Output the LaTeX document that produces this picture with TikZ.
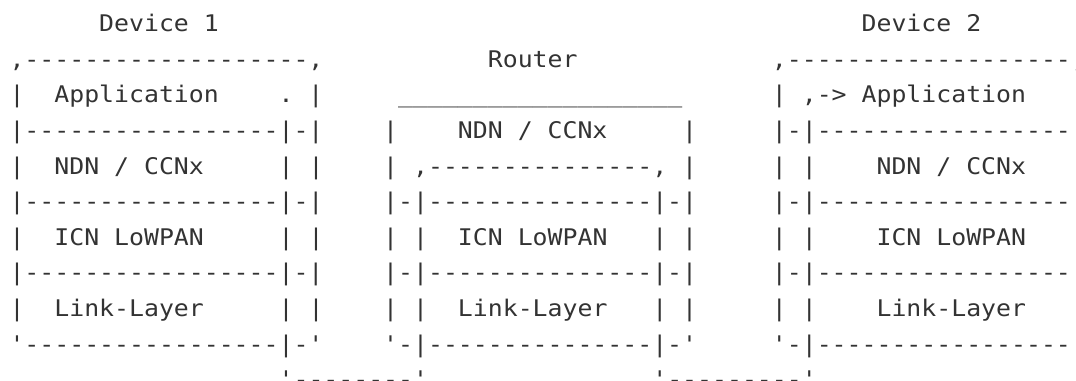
\documentclass[tikz,border=0pt]{standalone}
\usepackage{fontspec}
\setmonofont{DejaVu Sans Mono}[FakeStretch=1.084]
\definecolor{ink}{HTML}{333333}
\ExplSyntaxOn
\cs_new:Npn \Rp #1#2 { \prg_replicate:nn {#1} {#2} }
\ExplSyntaxOff
\tikzset{
  asciiline/.style={anchor=base west, inner sep=0pt, outer sep=0pt,
    font=\ttfamily\fontsize{17.18pt}{20pt}\selectfont, text=ink},
}
\begin{document}
\begin{tikzpicture}[x=0.75pt,y=-0.75pt]
\useasboundingbox (0,0) rectangle (1076,381);
\fill[white] (0,0) rectangle (1076,381);
\clip (0,0) rectangle (1076,381);
\def\xl{9.525}
\node[asciiline] (l0) at (\xl,31.7) {\Rp{6}{~}Device~1\Rp{43}{~}Device~2};
\node[asciiline] (l1) at (\xl,67.3) {,\Rp{19}{-},\Rp{11}{~}Router\Rp{13}{~},\Rp{19}{-},};
\node[asciiline] (l2) at (\xl,102.9) {|~~Application\Rp{4}{~}.~|\Rp{5}{~}\Rp{19}{\_}\Rp{6}{~}|~,->~Application};
\node[asciiline] (l3) at (\xl,138.5) {|\Rp{17}{-}|-|\Rp{4}{~}|\Rp{4}{~}NDN~/~CCNx\Rp{5}{~}|\Rp{5}{~}|-|\Rp{17}{-}};
\node[asciiline] (l4) at (\xl,174.1) {|~~NDN~/~CCNx\Rp{5}{~}|~|\Rp{4}{~}|~,\Rp{15}{-},~|\Rp{5}{~}|~|\Rp{4}{~}NDN~/~CCNx};
\node[asciiline] (l5) at (\xl,209.7) {|\Rp{17}{-}|-|\Rp{4}{~}|-|\Rp{15}{-}|-|\Rp{5}{~}|-|\Rp{17}{-}};
\node[asciiline] (l6) at (\xl,245.3) {|~~ICN~LoWPAN\Rp{5}{~}|~|\Rp{4}{~}|~|~~ICN~LoWPAN\Rp{3}{~}|~|\Rp{5}{~}|~|\Rp{4}{~}ICN~LoWPAN};
\node[asciiline] (l7) at (\xl,280.9) {|\Rp{17}{-}|-|\Rp{4}{~}|-|\Rp{15}{-}|-|\Rp{5}{~}|-|\Rp{17}{-}};
\node[asciiline] (l8) at (\xl,316.5) {|~~Link-Layer\Rp{5}{~}|~|\Rp{4}{~}|~|~~Link-Layer\Rp{3}{~}|~|\Rp{5}{~}|~|\Rp{4}{~}Link-Layer};
\node[asciiline] (l9) at (\xl,352.1) {'\Rp{17}{-}|-'\Rp{4}{~}'-|\Rp{15}{-}|-'\Rp{5}{~}'-|\Rp{17}{-}};
\node[asciiline] (l10) at (\xl,387.7) {\Rp{18}{~}'\Rp{8}{-}'\Rp{15}{~}'\Rp{9}{-}'};
\end{tikzpicture}
\end{document}
